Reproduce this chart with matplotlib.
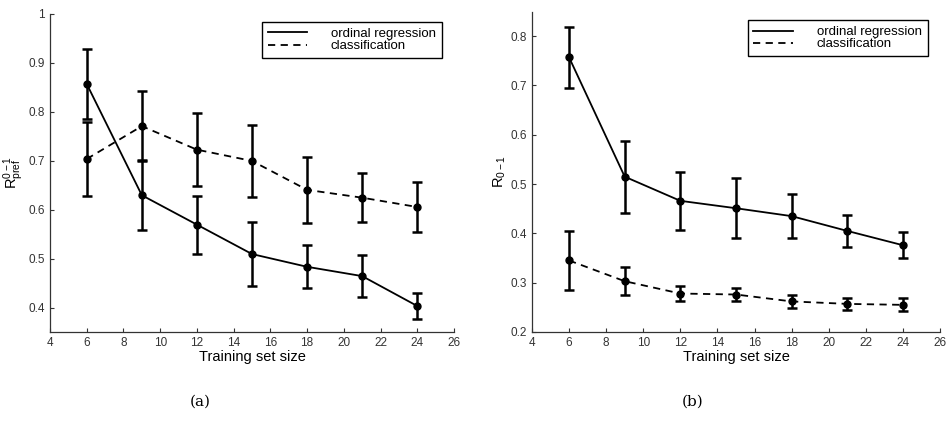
import numpy as np
import matplotlib
matplotlib.use('Agg')
import matplotlib.pyplot as plt
from matplotlib.lines import Line2D

plt.rcParams['font.family'] = ['Liberation Sans', 'DejaVu Sans']
plt.rcParams['mathtext.fontset'] = 'custom'
plt.rcParams['mathtext.rm'] = 'Liberation Sans'
plt.rcParams['mathtext.it'] = 'Liberation Sans'

# training set sizes (shared by both panels)
sizes = [6, 9, 12, 15, 18, 21, 24]

# panel (a): R_pref^{0-1}
a_ordinal = [0.857, 0.630, 0.570, 0.510, 0.484, 0.465, 0.404]
a_ordinal_err = [0.071, 0.071, 0.059, 0.065, 0.044, 0.043, 0.027]
a_class = [0.704, 0.771, 0.723, 0.700, 0.641, 0.625, 0.606]
a_class_err = [0.075, 0.072, 0.075, 0.073, 0.067, 0.050, 0.052]

# panel (b): R_{0-1}
b_ordinal = [0.757, 0.515, 0.466, 0.451, 0.435, 0.405, 0.376]
b_ordinal_err = [0.062, 0.073, 0.059, 0.061, 0.044, 0.033, 0.026]
b_class = [0.345, 0.303, 0.278, 0.276, 0.262, 0.257, 0.255]
b_class_err = [0.059, 0.029, 0.016, 0.014, 0.013, 0.012, 0.013]

series_labels = ['ordinal regression', 'classification']
x_ticks = np.arange(4, 27, 2)
dash = (0, (4, 3))


def draw_panel(ax, ord_vals, ord_err, cls_vals, cls_err, ylim, yticks, ylabel):
    ax.errorbar(sizes, ord_vals, yerr=ord_err, color='black', linestyle='-',
                linewidth=1.3, marker='o', markersize=5, elinewidth=1.8,
                capsize=3.5, capthick=1.8)
    ax.errorbar(sizes, cls_vals, yerr=cls_err, color='black', linestyle=dash,
                linewidth=1.3, marker='o', markersize=5, elinewidth=1.8,
                capsize=3.5, capthick=1.8)
    ax.set_xlim(4, 26)
    ax.set_ylim(*ylim)
    ax.set_xticks(x_ticks)
    ax.set_yticks(yticks)
    ax.set_yticklabels([('%g' % t) for t in yticks])
    for side in ['top', 'right']:
        ax.spines[side].set_visible(False)
    for side in ['left', 'bottom']:
        ax.spines[side].set_color('#333333')
        ax.spines[side].set_linewidth(0.9)
    ax.tick_params(direction='in', length=3, labelsize=8.5, colors='#333333')
    ax.set_xlabel('Training set size', fontsize=10.5, labelpad=1)
    ax.set_ylabel(ylabel, fontsize=10.5, labelpad=2)

    handles = [Line2D([], [], color='black', linewidth=1.3, linestyle='-'),
               Line2D([], [], color='black', linewidth=1.3, linestyle=dash)]
    leg = ax.legend(handles, series_labels, loc='upper right',
                    bbox_to_anchor=(0.97, 0.975),
                    fontsize=9.5, frameon=True, fancybox=False, edgecolor='black',
                    framealpha=1, handlelength=3.0, handletextpad=1.8,
                    borderpad=0.45, labelspacing=0.0, borderaxespad=0)
    leg.get_frame().set_linewidth(1.0)


fig = plt.figure(figsize=(9.51, 4.43), dpi=100)
ax1 = fig.add_axes([0.0526, 0.2506, 0.4248, 0.718])
ax2 = fig.add_axes([0.5594, 0.2506, 0.429, 0.7223])

draw_panel(ax1, a_ordinal, a_ordinal_err, a_class, a_class_err,
           (0.351, 1.0), [0.4, 0.5, 0.6, 0.7, 0.8, 0.9, 1.0],
           r'$\mathregular{R^{0-1}_{pref}}$')
draw_panel(ax2, b_ordinal, b_ordinal_err, b_class, b_class_err,
           (0.2, 0.849), [0.2, 0.3, 0.4, 0.5, 0.6, 0.7, 0.8],
           r'$\mathregular{R_{0-1}}$')

fig.text(200 / 951, 1 - 402 / 443, '(a)', family='DejaVu Serif', fontsize=11,
         ha='center', va='center')
fig.text(693 / 951, 1 - 402 / 443, '(b)', family='DejaVu Serif', fontsize=11,
         ha='center', va='center')

fig.savefig('out.png', dpi=100)
